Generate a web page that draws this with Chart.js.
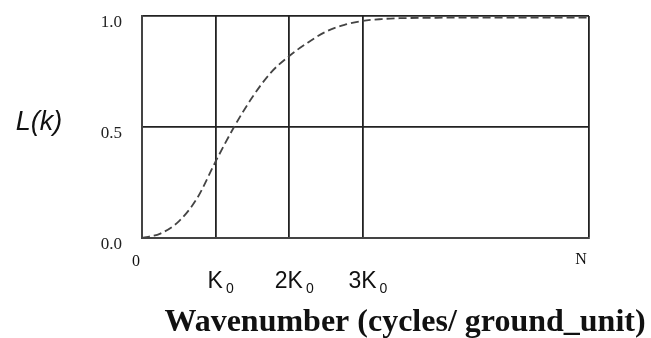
<!DOCTYPE html>
<html>
<head>
<meta charset="utf-8">
<script src="https://cdn.jsdelivr.net/npm/chart.js@4/dist/chart.umd.min.js"></script>
<style>
  html, body { margin: 0; padding: 0; background: #fff; }
  #wrap { width: 651px; height: 338px; }
</style>
</head>
<body>
<div id="wrap"><canvas id="lossChart" width="651" height="338"></canvas></div>
<script>
// Wavenumber in units of K0
const waveK = [0, 0.25, 0.5, 0.75, 1, 1.25, 1.5, 1.75, 2, 2.25, 2.5, 2.75, 3, 3.25, 3.5, 4, 4.5, 5, 5.5, 6.07];
const lossL = [0, 0.02, 0.075, 0.18, 0.345, 0.50, 0.635, 0.745, 0.82, 0.88, 0.93, 0.96, 0.978, 0.986, 0.99, 0.992, 0.993, 0.993, 0.993, 0.993];

// vertical grid lines (0, K0, 2K0, 3K0, N)
const gridK = [0, 1, 2, 3, 6.07];
const xTickMain = ['0', 'K', '2K', '3K', 'N'];
const xTickSub = ['', '0', '0', '0', ''];
const yTicks = [0, 0.5, 1];

const yTitle = 'L(k)';
const xTitle = 'Wavenumber (cycles/ ground_unit)';

const labelsPlugin = {
  id: 'labels',
  afterDraw(chart) {
    const ctx = chart.ctx;
    const xs = chart.scales.x;
    ctx.save();
    ctx.fillStyle = '#111';

    // y title
    ctx.font = 'italic 27px "Liberation Sans", Arial, sans-serif';
    ctx.textAlign = 'center';
    ctx.textBaseline = 'middle';
    ctx.fillText(yTitle, 39, 122);

    // x tick labels
    gridK.forEach((k, i) => {
      const px = xs.getPixelForValue(k);
      if (xTickSub[i] === '') {
        // serif labels at the ends (0 and N)
        ctx.font = '16px "Liberation Serif", "Times New Roman", serif';
        ctx.textAlign = 'center';
        ctx.textBaseline = 'middle';
        const off = i === 0 ? -6 : -8;
        ctx.fillText(xTickMain[i], px + off, i === 0 ? 262 : 260);
      } else {
        ctx.font = '23px "Liberation Sans", Arial, sans-serif';
        const mainW = ctx.measureText(xTickMain[i]).width;
        ctx.font = '14px "Liberation Sans", Arial, sans-serif';
        const subW = ctx.measureText(xTickSub[i]).width;
        const total = mainW + 3 + subW;
        const start = px + 5 - total / 2;
        ctx.textAlign = 'left';
        ctx.textBaseline = 'alphabetic';
        ctx.font = '23px "Liberation Sans", Arial, sans-serif';
        ctx.fillText(xTickMain[i], start, 288);
        ctx.font = '14px "Liberation Sans", Arial, sans-serif';
        ctx.fillText(xTickSub[i], start + mainW + 3, 293);
      }
    });

    // x title
    ctx.font = 'bold 32px "Liberation Serif", "Times New Roman", serif';
    ctx.textAlign = 'center';
    ctx.textBaseline = 'alphabetic';
    ctx.fillText(xTitle, 405, 331);
    ctx.restore();
  }
};

new Chart(document.getElementById('lossChart'), {
  type: 'line',
  data: {
    datasets: [{
      data: waveK.map((k, i) => ({ x: k, y: lossL[i] })),
      borderColor: '#444',
      borderWidth: 1.8,
      borderDash: [8, 4],
      pointRadius: 0,
      fill: false,
      cubicInterpolationMode: 'monotone'
    }]
  },
  options: {
    responsive: false,
    animation: false,
    layout: { padding: { left: 0, top: 16, right: 62, bottom: 0 } },
    plugins: { legend: { display: false }, tooltip: { enabled: false } },
    scales: {
      x: {
        type: 'linear',
        min: 0,
        max: 6.07,
        afterBuildTicks: s => { s.ticks = gridK.map(v => ({ value: v })); },
        afterFit: s => { s.height = 100; s.paddingLeft = 0; s.paddingRight = 0; },
        ticks: { display: false },
        grid: { color: '#222', lineWidth: 1.8, drawTicks: false },
        border: { color: '#444', width: 2 }
      },
      y: {
        min: 0,
        max: 1,
        afterBuildTicks: s => { s.ticks = yTicks.map(v => ({ value: v })); },
        afterFit: s => { s.width = 142; s.paddingTop = 0; s.paddingBottom = 0; },
        ticks: {
          callback: v => v.toFixed(1),
          font: { family: '"Liberation Serif", "Times New Roman", serif', size: 17 },
          color: '#222',
          padding: 20,
          labelOffset: 7
        },
        grid: { color: '#222', lineWidth: 1.8, drawTicks: false },
        border: { color: '#444', width: 2 }
      }
    }
  },
  plugins: [labelsPlugin]
});
</script>
</body>
</html>
